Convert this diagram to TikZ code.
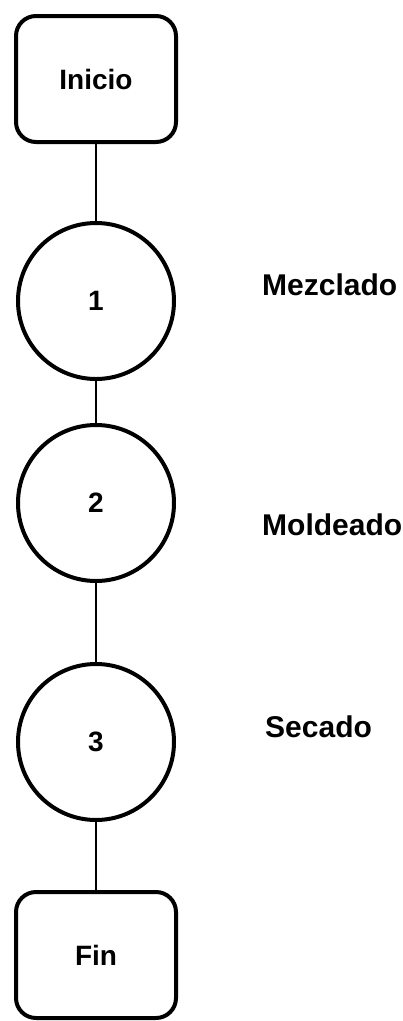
\documentclass[tikz,border=0pt]{standalone}
\usepackage{fontspec}
\setmainfont{Liberation Sans}
\usetikzlibrary{shapes,arrows,positioning}
\tikzset{op/.style={draw,circle,line width=4pt,minimum size=156pt,inner sep=0pt}}
\tikzstyle{st}=[draw, rectangle, rounded corners=20pt, line width=4pt, minimum width=160pt, minimum height=126pt]
\tikzstyle{lbl}=[anchor=west, inner sep=0pt, font=\fontsize{30}{36}\selectfont\bfseries]

\begin{document}
\begin{tikzpicture}[x=1pt, y=-1pt, font=\fontsize{28}{34}\selectfont\bfseries]
\useasboundingbox (0,0) rectangle (402,1021);
\node[st] (ini) at (96,79) {Inicio};
\node[op][below of =ini, node distance=222pt] (c1) {1};
\node[op][below of =c1, node distance=202pt] (c2) {2};
\node[op][below of =c2, node distance=239pt] (c3) {3};
\node[st][below of =c3, node distance=213pt] (fin) {Fin};
\node[lbl] (mez) at (262,285) {Mezclado};
\node[lbl] (mol) at (262,525) {Moldeado};
\node[lbl] (sec) at (265,727) {Secado};
\path[line width=2pt] (ini) edge (c1)
	(c1) edge (c2)
	(c2) edge (c3)
	(c3) edge (fin)
;
\end{tikzpicture}
\end{document}
